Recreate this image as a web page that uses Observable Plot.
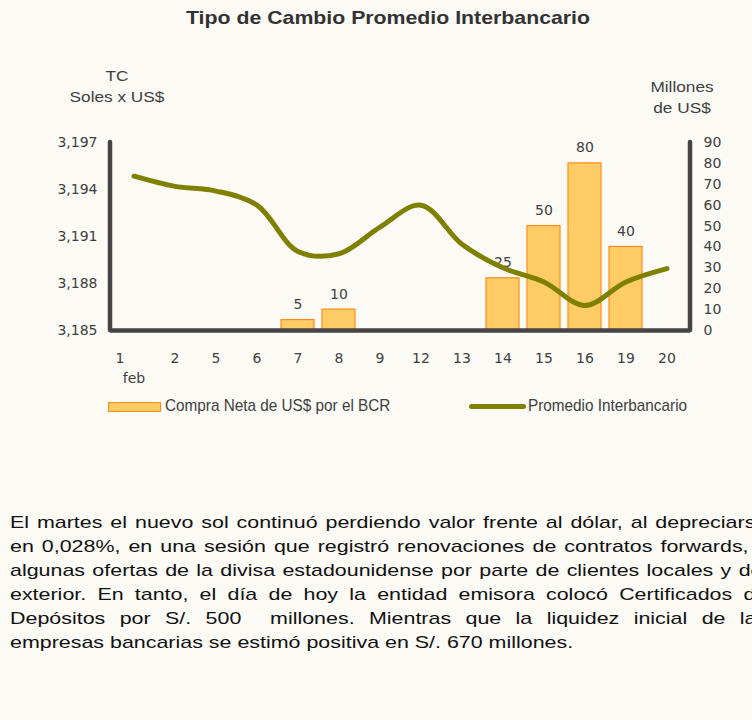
<!DOCTYPE html>
<html>
<head>
<meta charset="utf-8">
<script src="https://cdn.jsdelivr.net/npm/d3@7"></script>
<script src="https://cdn.jsdelivr.net/npm/@observablehq/plot@0.6"></script>
<style>
  html, body { margin: 0; padding: 0; background: #fbfaf5; overflow: hidden; }
  #wrap { position: relative; width: 752px; height: 720px; overflow: hidden; background: #fbfaf5; font-family: "Liberation Sans", Arial, sans-serif; color: #333; }
  #chart { position: absolute; left: 0; top: 0; }
  .abs { position: absolute; white-space: nowrap; }
  #title { left: 186px; top: 7px; font-weight: bold; font-size: 19px; color: #333; transform: scaleX(1.12); transform-origin: left top; }
  .lab { font-size: 14px; color: #404040; text-align: center; line-height: 21px; transform: scaleX(1.23); }
  .leg { font-size: 17px; color: #404040; transform: scaleX(0.9); transform-origin: left top; }
  #para { left: 10px; top: 511px; width: 601px; font-size: 17px; color: #111; line-height: 24px; transform: scaleX(1.26); transform-origin: left top; }
  #para div { text-align: justify; text-align-last: justify; white-space: normal; }
  #para div.last { text-align-last: left; }
</style>
</head>
<body>
<div id="wrap">
  <div id="chart"></div>
  <div id="title" class="abs">Tipo de Cambio Promedio Interbancario</div>
  <div class="abs lab" style="left:67px; top:66px; width:100px;">TC<br>Soles x US$</div>
  <div class="abs lab" style="left:632px; top:77px; width:100px;">Millones<br>de US$</div>
  <div class="abs" style="left:108px; top:402px; width:53px; height:10px; background:#ffcc66; border:1px solid #ff8c1a; box-sizing:border-box;"></div>
  <div class="abs leg" style="left:165px; top:396px;">Compra Neta de US$ por el BCR</div>
  <div class="abs" style="left:469px; top:404px; width:57px; height:5px; background:#808000; border-radius:3px;"></div>
  <div class="abs leg" style="left:528px; top:396px;">Promedio Interbancario</div>
  <div id="para" class="abs">
    <div>El martes el nuevo sol continuó perdiendo valor frente al dólar, al depreciarse</div>
    <div>en 0,028%, en una sesión que registró renovaciones de contratos forwards, y</div>
    <div>algunas ofertas de la divisa estadounidense por parte de clientes locales y del</div>
    <div>exterior. En tanto, el día de hoy la entidad emisora colocó Certificados de</div>
    <div>Depósitos por S/. 500&nbsp; millones. Mientras que la liquidez inicial de las</div>
    <div class="last">empresas bancarias se estimó positiva en S/. 670 millones.</div>
  </div>
</div>
<script>
// ---- data ----
const days = ["1", "2", "5", "6", "7", "8", "9", "12", "13", "14", "15", "16", "19", "20"];
const monthLabel = "feb";
const tipoCambio = [3194.85, 3194.2, 3193.9, 3193.0, 3190.05, 3189.9, 3191.6, 3193.0, 3190.5, 3189.0, 3188.1, 3186.6, 3188.1, 3188.95];
const compraNeta = [0, 0, 0, 0, 5, 10, 0, 0, 0, 25, 50, 80, 40, 0];
const tcTicks = [3185, 3188, 3191, 3194, 3197];
const tcTickLabels = ["3,185", "3,188", "3,191", "3,194", "3,197"];
const millonesTicks = [0, 10, 20, 30, 40, 50, 60, 70, 80, 90];

// ---- dual axis mapping: left (TC) onto right (millones) scale ----
const tcMin = 3185, tcMax = 3197, mMax = 90;
const tcToM = v => (v - tcMin) * mMax / (tcMax - tcMin);

const rows = days.map((d, i) => ({day: d, tc: tipoCambio[i], m: compraNeta[i]}));
const bars = rows.filter(r => r.m > 0);

const axisColor = "#454545";

const plot = Plot.plot({
  width: 752,
  height: 440,
  marginTop: 142,
  marginBottom: 110,
  marginLeft: 110,
  marginRight: 62,
  style: {fontFamily: "DejaVu Sans, Verdana, sans-serif", fontSize: "14px", color: "#404040", background: "transparent", overflow: "visible"},
  x: {type: "band", domain: days, paddingInner: 0.2, paddingOuter: 0.1, axis: null},
  y: {domain: [0, mMax], axis: null},
  marks: [
    Plot.barY(bars, {x: "day", y: "m", fill: "#ffcc66", stroke: "#ff8c1a", strokeWidth: 1.2}),
    Plot.text(bars, {x: "day", y: "m", text: d => String(d.m), dy: -11, lineAnchor: "bottom", fill: "#404040"}),
    Plot.line(rows, {x: "day", y: d => tcToM(d.tc), stroke: "#808000", strokeWidth: 5, curve: "catmull-rom"}),
    // axis lines
    Plot.ruleY([0], {stroke: axisColor, strokeWidth: 4.5}),
    (index, scales, values, dimensions) => {
      const {marginLeft, marginRight, marginTop, marginBottom, width, height} = dimensions;
      const g = d3.create("svg:g").attr("stroke", axisColor).attr("stroke-width", 4.5).attr("stroke-linecap", "round");
      g.append("line").attr("x1", marginLeft).attr("x2", marginLeft).attr("y1", marginTop).attr("y2", height - marginBottom);
      g.append("line").attr("x1", width - marginRight).attr("x2", width - marginRight).attr("y1", marginTop).attr("y2", height - marginBottom);
      return g.node();
    },
    // left axis (TC)
    Plot.axisY(tcTicks.map(tcToM), {anchor: "left", label: null, tickSize: 0, tickPadding: 13, tickFormat: (d, i) => tcTickLabels[i]}),
    // right axis (millones)
    Plot.axisY(millonesTicks, {anchor: "right", label: null, tickSize: 0, tickPadding: 13, textAnchor: "start"}),
    // x tick labels
    Plot.text(rows.slice(1), {x: "day", text: "day", frameAnchor: "bottom", dy: 32, fill: "#404040"}),
    Plot.text(rows.slice(0, 1), {x: "day", text: "day", frameAnchor: "bottom", dy: 32, dx: -14, fill: "#404040"}),
    Plot.text([monthLabel], {x: () => days[0], text: d => d, frameAnchor: "bottom", dy: 52, fill: "#404040"})
  ]
});
document.getElementById("chart").appendChild(plot);
</script>
</body>
</html>
